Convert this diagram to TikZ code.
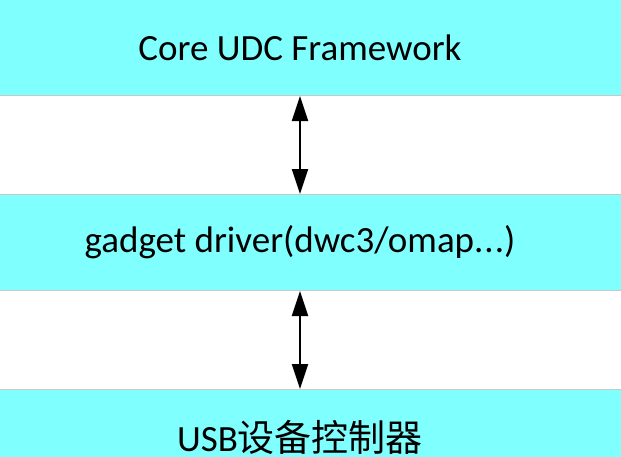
\documentclass[tikz,border=0pt]{standalone}
\usepackage{fontspec}
\setmainfont{Carlito}
\newfontfamily\cjk{Noto Sans CJK SC}
\usetikzlibrary{arrows.meta}
\definecolor{boxcyan}{HTML}{80FFFF}
\definecolor{boxline}{HTML}{C8C8C8}
\begin{document}
\begin{tikzpicture}[x=1pt,y=-1pt,
  layer/.style={rectangle, fill=boxcyan, draw=boxline, line width=1pt,
    minimum width=700pt, minimum height=96pt, inner sep=0pt,
    font=\fontsize{37}{44}\selectfont},
  link/.style={line width=2pt, {Triangle[length=25pt,width=16pt]}-{Triangle[length=25pt,width=16pt]}}]
\useasboundingbox (0,0) rectangle (621,456);
\clip (0,0) rectangle (621,456);
\node[layer] (core) at (300,47.5) {Core UDC Framework};
\node[layer] (gadget) at (300,242.5) {gadget driver(dwc3/omap.\kern1pt.\kern1pt.)};
\node[layer] (ctrl) at (300,437.5) {USB{\cjk 设备控制器}};
\draw[link] (core.south) -- (gadget.north);
\draw[link] (gadget.south) -- (ctrl.north);
\end{tikzpicture}
\end{document}
